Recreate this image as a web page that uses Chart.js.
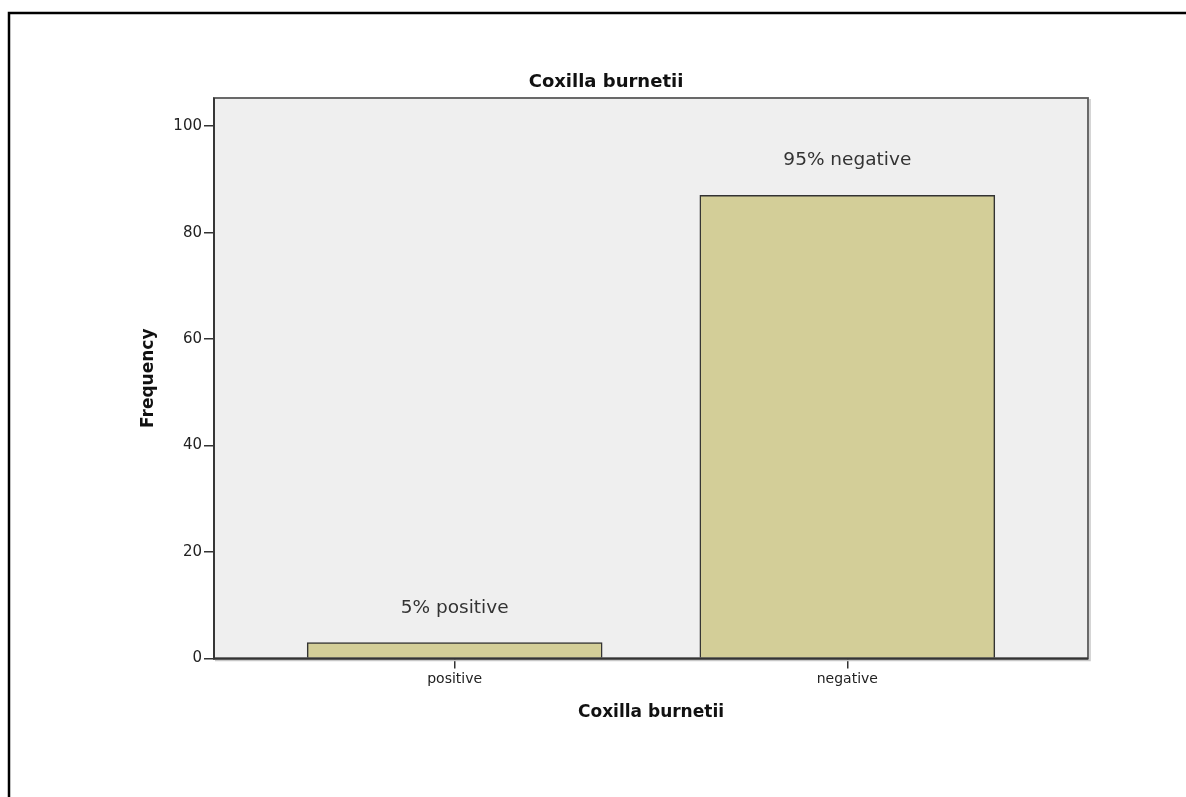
<!DOCTYPE html>
<html>
<head>
<meta charset="utf-8">
<script src="https://cdn.jsdelivr.net/npm/chart.js@4.4.1/dist/chart.umd.min.js"></script>
<style>
  html, body { margin: 0; padding: 0; background: #ffffff; }
  #wrap { width: 1186px; height: 797px; position: relative; }
  canvas { display: block; }
</style>
</head>
<body>
<div id="wrap"><canvas id="c" width="1186" height="797"></canvas></div>
<script>
// ---- data ----
const chartTitle = "Coxilla burnetii";
const xAxisTitle = "Coxilla burnetii";
const yAxisTitle = "Frequency";
const categories = ["positive", "negative"];
const frequencies = [3, 87];
const percentLabels = ["5% positive", "95% negative"];
const yTicks = [0, 20, 40, 60, 80, 100];

const FONT = "'DejaVu Sans', 'Liberation Sans', sans-serif";

const points = categories.map((c, i) => ({ x: i, y: frequencies[i] }));

const decorPlugin = {
  id: 'decor',
  beforeDraw(chart) {
    const { ctx, chartArea: a } = chart;
    ctx.save();
    ctx.fillStyle = '#efefef';
    ctx.fillRect(a.left, a.top, a.right - a.left, a.bottom - a.top);
    ctx.restore();
  },
  afterDraw(chart) {
    const { ctx, chartArea: a } = chart;
    const xs = chart.scales.x, ys = chart.scales.y;
    ctx.save();
    // outer border (top + left only visible)
    ctx.strokeStyle = '#000';
    ctx.lineWidth = 2.5;
    ctx.beginPath();
    ctx.moveTo(9, 800);
    ctx.lineTo(9, 13);
    ctx.lineTo(1190, 13);
    ctx.stroke();
    // plot frame shadow
    ctx.strokeStyle = '#c8c8c8';
    ctx.lineWidth = 1.5;
    ctx.beginPath();
    ctx.moveTo(a.right + 2, a.top + 1);
    ctx.lineTo(a.right + 2, a.bottom + 2);
    ctx.lineTo(a.left + 1, a.bottom + 2);
    ctx.stroke();
    // plot frame
    ctx.strokeStyle = '#5a5a5a';
    ctx.lineWidth = 1.8;
    ctx.strokeRect(a.left, a.top, a.right - a.left, a.bottom - a.top);
    ctx.strokeStyle = '#333';
    ctx.beginPath();
    ctx.moveTo(a.left, a.top);
    ctx.lineTo(a.left, a.bottom);
    ctx.lineTo(a.right, a.bottom);
    ctx.stroke();
    // main title
    ctx.fillStyle = '#111';
    ctx.textAlign = 'center';
    ctx.textBaseline = 'alphabetic';
    ctx.font = 'bold 18px ' + FONT;
    ctx.fillText(chartTitle, 606, 87);
    // x axis title
    ctx.font = 'bold 17px ' + FONT;
    ctx.fillText(xAxisTitle, (a.left + a.right) / 2, 717);
    // y axis title
    ctx.save();
    ctx.translate(153, (a.top + a.bottom) / 2);
    ctx.rotate(-Math.PI / 2);
    ctx.textBaseline = 'alphabetic';
    ctx.fillText(yAxisTitle, 0, 0);
    ctx.restore();
    // percentage annotations
    ctx.fillStyle = '#333';
    ctx.font = '18.5px ' + FONT;
    points.forEach((p, i) => {
      const px = xs.getPixelForValue(p.x);
      const py = ys.getPixelForValue(p.y);
      ctx.fillText(percentLabels[i], px, py - 30);
    });
    ctx.restore();
  }
};

new Chart(document.getElementById('c'), {
  type: 'bar',
  data: {
    datasets: [{
      data: points,
      backgroundColor: '#d3ce98',
      borderColor: '#333',
      borderWidth: 1.5,
      barThickness: 295
    }]
  },
  options: {
    responsive: false,
    animation: false,
    devicePixelRatio: 1,
    layout: { padding: { left: 0, top: 98, right: 98, bottom: 0 } },
    plugins: {
      legend: { display: false },
      tooltip: { enabled: false },
      title: { display: false }
    },
    scales: {
      x: {
        type: 'linear',
        offset: false,
        min: -0.613,
        max: 1.613,
        afterBuildTicks: (s) => { s.ticks = categories.map((c, i) => ({ value: i })); },
        afterFit: (s) => { s.height = 138.5; },
        ticks: {
          callback: (v) => categories[v],
          color: '#222',
          font: { family: FONT, size: 14 },
          padding: 2,
          maxRotation: 0,
          autoSkip: false
        },
        grid: { offset: false, drawOnChartArea: false, drawTicks: true, tickLength: 10, color: '#333', lineWidth: 1.5 },
        border: { display: true, color: '#333', width: 1.5 }
      },
      y: {
        min: 0,
        max: 105.3,
        afterBuildTicks: (s) => { s.ticks = yTicks.map(v => ({ value: v })); },
        afterFit: (s) => { s.width = 214; },
        ticks: {
          color: '#222',
          font: { family: FONT, size: 15 },
          padding: 2
        },
        grid: { drawOnChartArea: false, drawTicks: true, tickLength: 10, color: '#333', lineWidth: 1.5 },
        border: { display: true, color: '#333', width: 1.5 }
      }
    }
  },
  plugins: [decorPlugin]
});
</script>
</body>
</html>
